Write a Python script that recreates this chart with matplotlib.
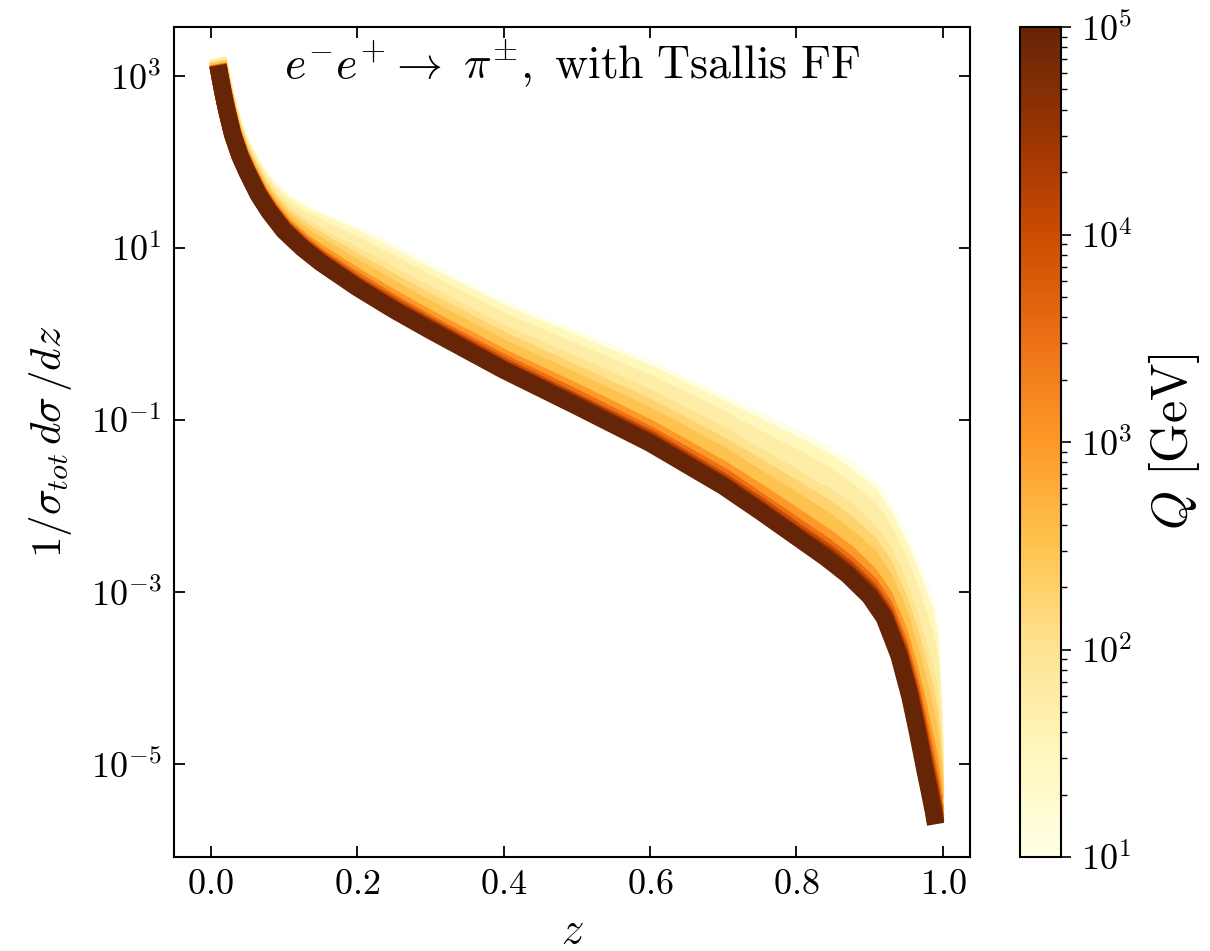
import numpy as np
import matplotlib
matplotlib.use("Agg")
import matplotlib.pyplot as plt
from matplotlib.colors import LogNorm
import matplotlib.cm as cm

plt.rcParams['mathtext.fontset'] = 'cm'
plt.rcParams['font.family'] = 'serif'
plt.rcParams['font.serif'] = ['cmr10', 'DejaVu Serif']
plt.rcParams['axes.unicode_minus'] = False

# momentum fraction z
z = [0.01, 0.013, 0.017, 0.022, 0.03, 0.04, 0.05, 0.065, 0.08, 0.1, 0.125, 0.15,
     0.2, 0.25, 0.3, 0.4, 0.5, 0.6, 0.7, 0.75, 0.8, 0.84, 0.87, 0.9, 0.92, 0.94,
     0.955, 0.965, 0.975, 0.982, 0.987, 0.99]

# scale Q [GeV] of each curve
Q = [1e1, 10**1.5, 10**1.75, 1e2, 10**2.25, 10**2.5, 1e3, 10**3.5, 1e4, 10**4.5, 1e5]

# log10(1/sigma_tot dsigma/dz), one list per Q
lg_q10 = [3.22, 3.10, 2.93, 2.75, 2.48, 2.25, 2.08, 1.86, 1.70, 1.54, 1.41, 1.32,
          1.14, 0.93, 0.71, 0.28, -0.06, -0.41, -0.81, -1.02, -1.22, -1.40, -1.57, -1.78,
          -2.03, -2.36, -2.66, -2.87, -3.08, -3.40, -4.15, -4.90]
lg_q32 = [3.21, 3.09, 2.92, 2.74, 2.47, 2.24, 2.07, 1.84, 1.68, 1.52, 1.38, 1.29,
          1.10, 0.88, 0.66, 0.23, -0.12, -0.47, -0.88, -1.09, -1.30, -1.48, -1.66, -1.87,
          -2.12, -2.46, -2.77, -2.99, -3.22, -3.54, -4.25, -4.96]
lg_q56 = [3.20, 3.08, 2.90, 2.72, 2.45, 2.21, 2.04, 1.81, 1.64, 1.47, 1.33, 1.22,
          1.02, 0.80, 0.58, 0.14, -0.22, -0.58, -1.00, -1.23, -1.45, -1.64, -1.82, -2.03,
          -2.28, -2.64, -2.97, -3.22, -3.47, -3.79, -4.43, -5.06]
lg_q100 = [3.18, 3.05, 2.88, 2.69, 2.42, 2.18, 2.00, 1.76, 1.59, 1.40, 1.25, 1.12,
           0.90, 0.67, 0.44, 0.00, -0.37, -0.75, -1.19, -1.44, -1.68, -1.88, -2.06, -2.29,
           -2.54, -2.91, -3.28, -3.57, -3.87, -4.18, -4.71, -5.22]
lg_q178 = [3.17, 3.04, 2.86, 2.67, 2.40, 2.16, 1.98, 1.74, 1.55, 1.36, 1.20, 1.07,
           0.83, 0.59, 0.36, -0.08, -0.47, -0.86, -1.31, -1.56, -1.81, -2.02, -2.21, -2.44,
           -2.69, -3.08, -3.47, -3.78, -4.10, -4.41, -4.88, -5.32]
lg_q316 = [3.16, 3.02, 2.85, 2.65, 2.38, 2.14, 1.95, 1.71, 1.52, 1.32, 1.15, 1.01,
           0.76, 0.51, 0.28, -0.17, -0.56, -0.96, -1.42, -1.69, -1.95, -2.17, -2.36, -2.59,
           -2.84, -3.24, -3.66, -3.99, -4.34, -4.64, -5.05, -5.41]
lg_q1k = [3.14, 3.00, 2.83, 2.63, 2.35, 2.11, 1.92, 1.67, 1.48, 1.27, 1.08, 0.93,
          0.66, 0.41, 0.17, -0.28, -0.68, -1.10, -1.58, -1.85, -2.13, -2.36, -2.55, -2.80,
          -3.05, -3.46, -3.91, -4.27, -4.66, -4.95, -5.27, -5.54]
lg_q3k = [3.13, 2.99, 2.81, 2.62, 2.34, 2.09, 1.90, 1.65, 1.45, 1.24, 1.05, 0.88,
          0.61, 0.35, 0.11, -0.34, -0.75, -1.18, -1.66, -1.95, -2.24, -2.47, -2.67, -2.91,
          -3.16, -3.59, -4.05, -4.43, -4.83, -5.13, -5.40, -5.61]
lg_q10k = [3.13, 2.99, 2.81, 2.61, 2.33, 2.08, 1.89, 1.63, 1.44, 1.22, 1.02, 0.86,
           0.57, 0.32, 0.08, -0.38, -0.80, -1.22, -1.72, -2.00, -2.30, -2.53, -2.73, -2.98,
           -3.23, -3.66, -4.13, -4.52, -4.94, -5.23, -5.47, -5.66]
lg_q32k = [3.12, 2.98, 2.80, 2.60, 2.32, 2.07, 1.88, 1.63, 1.43, 1.21, 1.01, 0.84,
           0.55, 0.29, 0.06, -0.41, -0.82, -1.25, -1.75, -2.04, -2.34, -2.57, -2.77, -3.02,
           -3.27, -3.71, -4.19, -4.58, -5.01, -5.30, -5.52, -5.68]
lg_q100k = [3.12, 2.98, 2.80, 2.60, 2.32, 2.07, 1.88, 1.62, 1.42, 1.20, 1.00, 0.83,
            0.54, 0.28, 0.04, -0.42, -0.84, -1.27, -1.77, -2.06, -2.36, -2.60, -2.80, -3.05,
            -3.30, -3.74, -4.22, -4.62, -5.05, -5.34, -5.55, -5.70]
curves = [lg_q10, lg_q32, lg_q56, lg_q100, lg_q178, lg_q316, lg_q1k, lg_q3k,
          lg_q10k, lg_q32k, lg_q100k]

xticks = [0.0, 0.2, 0.4, 0.6, 0.8, 1.0]
xticklabels = ['$0.0$', '$0.2$', '$0.4$', '$0.6$', '$0.8$', '$1.0$']
yticks = [1e3, 1e1, 1e-1, 1e-3, 1e-5]
yticklabels = ['$10^{3}$', '$10^{1}$', '$10^{-1}$', '$10^{-3}$', '$10^{-5}$']
cticks = [1e1, 1e2, 1e3, 1e4, 1e5]
cticklabels = ['$10^{1}$', '$10^{2}$', '$10^{3}$', '$10^{4}$', '$10^{5}$']

cmap = plt.get_cmap('YlOrBr')
norm = LogNorm(vmin=10, vmax=1e5)

fig = plt.figure(figsize=(12.1, 9.51), dpi=100)
ax = fig.add_axes([0.1438, 0.0988, 0.6579, 0.8728])
cax = fig.add_axes([0.843, 0.0988, 0.034, 0.8728])

for i, (q, lg) in enumerate(zip(Q, curves)):
    ax.plot(z, np.power(10.0, lg), color=cmap(norm(q)), lw=12.5,
            solid_capstyle='butt', solid_joinstyle='round', zorder=2 + i)

ax.set_yscale('log')
ax.set_xlim(-0.05, 1.037)
ax.set_ylim(8.3e-7, 3.7e3)
ax.set_xticks(xticks)
ax.set_xticklabels(xticklabels)
ax.set_yticks(yticks)
ax.set_yticklabels(yticklabels)
ax.minorticks_off()
ax.tick_params(direction='in', top=True, right=True, length=8, width=1.3,
               labelsize=26, pad=9)
for s in ax.spines.values():
    s.set_linewidth(1.5)

ax.set_xlabel('$z$', fontsize=32, labelpad=8)
ax.set_ylabel(r'$1/\sigma_{tot}\, d\sigma\, /dz$', fontsize=31, labelpad=12)
ax.text(0.5, 0.957, r'$e^{-}e^{+}\rightarrow\ \pi^{\pm},\ \mathrm{with\ Tsallis\ FF}$',
        transform=ax.transAxes, ha='center', va='center', fontsize=33)

sm = cm.ScalarMappable(norm=norm, cmap=cmap)
cb = fig.colorbar(sm, cax=cax)
cb.set_ticks(cticks)
cb.set_ticklabels(cticklabels)
cb.outline.set_linewidth(1.5)
cax.tick_params(which='major', direction='out', length=7, width=1.2, labelsize=26, pad=7)
cax.tick_params(which='minor', direction='out', length=4, width=1.0)
cb.set_label(r'$Q\ \mathrm{[GeV]}$', fontsize=36, labelpad=10)

fig.savefig('out.png', dpi=100)
